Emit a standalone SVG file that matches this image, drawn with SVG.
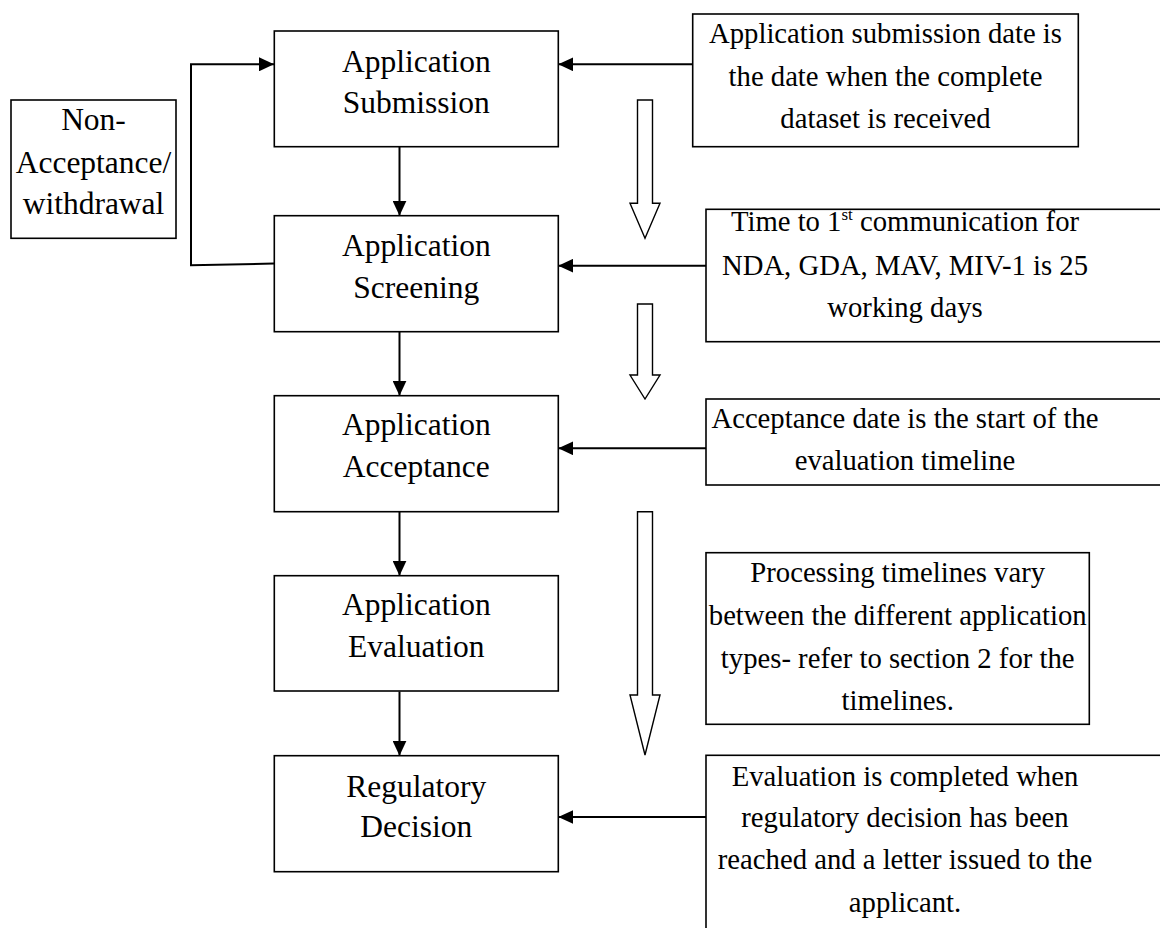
<svg xmlns="http://www.w3.org/2000/svg" width="1160" height="928" viewBox="0 0 1160 928">
<defs>
<style>
.box{fill:#fff;stroke:#000;stroke-width:1.6}
.ln{fill:none;stroke:#000;stroke-width:2}
.hol{fill:#fff;stroke:#000;stroke-width:1.4;stroke-linejoin:miter}
.tl{font-family:"Liberation Serif","Times New Roman",serif;font-size:31.5px;fill:#000;text-anchor:middle}
.tr{font-family:"Liberation Serif","Times New Roman",serif;font-size:28.7px;fill:#000;text-anchor:middle}
</style>
<marker id="ah" viewBox="0 0 15 14" refX="15" refY="7" markerWidth="15" markerHeight="14" markerUnits="userSpaceOnUse" orient="auto">
<path d="M0,0 L15,7 L0,14 Z" fill="#000"/>
</marker>
</defs>
<rect width="1160" height="928" fill="#fff"/>

<g id="connectors">
<line class="ln" x1="399.5" y1="147" x2="399.5" y2="215.7" marker-end="url(#ah)"/>
<line class="ln" x1="399.5" y1="332" x2="399.5" y2="395.7" marker-end="url(#ah)"/>
<line class="ln" x1="399.5" y1="512" x2="399.5" y2="575.7" marker-end="url(#ah)"/>
<line class="ln" x1="399.5" y1="691.5" x2="399.5" y2="755.7" marker-end="url(#ah)"/>
<polyline class="ln" points="274,263.5 191,265.3 191,64.3 274,64.3" marker-end="url(#ah)"/>
<line class="ln" x1="692.7" y1="64.3" x2="558.3" y2="64.3" marker-end="url(#ah)"/>
<line class="ln" x1="706" y1="265.7" x2="558.3" y2="265.7" marker-end="url(#ah)"/>
<line class="ln" x1="706" y1="448.3" x2="558.3" y2="448.3" marker-end="url(#ah)"/>
<line class="ln" x1="706" y1="817" x2="558.3" y2="817" marker-end="url(#ah)"/>
<polygon class="hol" points="637.5,100 652.5,100 652.5,203.3 660,203.3 645,238.3 630,203.3 637.5,203.3"/>
<polygon class="hol" points="637.5,304 652.5,304 652.5,375 660,375 645,399 630,375 637.5,375"/>
<polygon class="hol" points="637.5,511.7 652.5,511.7 652.5,695 660,695 645,755 630,695 637.5,695"/>
</g>

<g id="nonacceptance">
<rect class="box" x="11" y="100" width="165" height="138.3"/>
<text class="tl" x="93.5" y="130">Non-</text>
<text class="tl" x="93.5" y="172.7">Acceptance/</text>
<text class="tl" x="93.5" y="214.3">withdrawal</text>
</g>

<g id="submission">
<rect class="box" x="274.3" y="31" width="284" height="115.7"/>
<text class="tl" x="416.3" y="71.5">Application</text>
<text class="tl" x="416.3" y="113.3">Submission</text>
</g>

<g id="screening">
<rect class="box" x="274.3" y="215.7" width="284" height="116"/>
<text class="tl" x="416.3" y="256">Application</text>
<text class="tl" x="416.3" y="297.7">Screening</text>
</g>

<g id="acceptance">
<rect class="box" x="274.3" y="395.7" width="284" height="116"/>
<text class="tl" x="416.3" y="435.3">Application</text>
<text class="tl" x="416.3" y="477.3">Acceptance</text>
</g>

<g id="evaluation">
<rect class="box" x="274.3" y="575.7" width="284" height="115.3"/>
<text class="tl" x="416.3" y="615">Application</text>
<text class="tl" x="416.3" y="657.3">Evaluation</text>
</g>

<g id="decision">
<rect class="box" x="274.3" y="755.7" width="284" height="116"/>
<text class="tl" x="416.3" y="796.7">Regulatory</text>
<text class="tl" x="416.3" y="837.3">Decision</text>
</g>

<g id="note-submission">
<rect class="box" x="692.7" y="14" width="385.6" height="132.7"/>
<text class="tr" x="885.5" y="43.3">Application submission date is</text>
<text class="tr" x="885.5" y="86">the date when the complete</text>
<text class="tr" x="885.5" y="128.3">dataset is received</text>
</g>

<g id="note-screening">
<rect class="box" x="706" y="209.3" width="470" height="132.4"/>
<text class="tr" x="905" y="230.7">Time to 1<tspan font-size="17px" dy="-11">st</tspan><tspan dy="11"> communication for</tspan></text>
<text class="tr" x="905" y="275">NDA, GDA, MAV, MIV-1 is 25</text>
<text class="tr" x="905" y="316.7">working days</text>
</g>

<g id="note-acceptance">
<rect class="box" x="706" y="399" width="470" height="86"/>
<text class="tr" x="905" y="428.3">Acceptance date is the start of the</text>
<text class="tr" x="905" y="470">evaluation timeline</text>
</g>

<g id="note-evaluation">
<rect class="box" x="706" y="552.7" width="383.3" height="171.6"/>
<text class="tr" x="897.7" y="581.7">Processing timelines vary</text>
<text class="tr" x="897.7" y="625">between the different application</text>
<text class="tr" x="897.7" y="668.3">types- refer to section 2 for the</text>
<text class="tr" x="897.7" y="710">timelines.</text>
</g>

<g id="note-decision">
<rect class="box" x="706" y="755.3" width="470" height="190"/>
<text class="tr" x="905" y="785.7">Evaluation is completed when</text>
<text class="tr" x="905" y="826.7">regulatory decision has been</text>
<text class="tr" x="905" y="869.3">reached and a letter issued to the</text>
<text class="tr" x="905" y="911.7">applicant.</text>
</g>
</svg>
